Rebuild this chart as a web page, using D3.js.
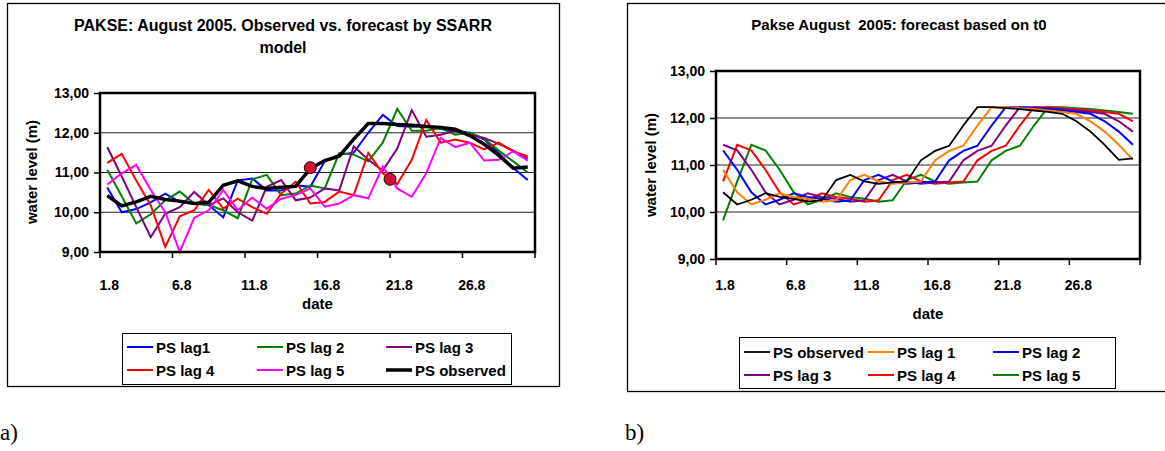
<!DOCTYPE html>
<meta charset="utf-8">
<style>
	body { margin: 0; background: #fff; }
	svg text { font-family: "Liberation Sans", Arial, sans-serif; font-weight: bold; fill: #000; }
	.panel { font-family: "Liberation Serif", "Times New Roman", serif; font-weight: normal; }
</style>
<svg width="1165" height="451"></svg>
<script src="https://d3js.org/d3.v7.min.js"></script>
<script>
	// days of August 2005
	var dates = ["1.8", "2.8", "3.8", "4.8", "5.8", "6.8", "7.8", "8.8", "9.8", "10.8",
		"11.8", "12.8", "13.8", "14.8", "15.8", "16.8", "17.8", "18.8", "19.8", "20.8",
		"21.8", "22.8", "23.8", "24.8", "25.8", "26.8", "27.8", "28.8", "29.8", "30.8"]
	var dateTicks = ["1.8", "6.8", "11.8", "16.8", "21.8", "26.8"]
	var levelTicks = [9, 10, 11, 12, 13]

	// water level at Pakse (m)
	var observed = [10.42, 10.16, 10.26, 10.40, 10.32, 10.28, 10.22, 10.25, 10.68, 10.79,
		10.65, 10.60, 10.63, 10.65, 11.10, 11.30, 11.41, 11.84, 12.23, 12.23,
		12.21, 12.19, 12.16, 12.13, 12.09, 11.93, 11.71, 11.43, 11.11, 11.14]

	// a) SSARR forecasts
	var ssarrLag1 = [10.62, 10.00, 10.08, 10.25, 10.47, 10.26, 10.22, 10.18, 9.87, 10.80,
		10.85, 10.55, 10.55, 10.68, 10.64, 11.28, 11.45, 11.50, 12.00, 12.45,
		12.17, 12.15, 12.17, 12.10, 12.04, 12.00, 11.83, 11.49, 11.11, 10.81]
	var ssarrLag2 = [11.07, 10.40, 9.72, 9.95, 10.30, 10.52, 10.22, 10.18, 10.05, 9.85,
		10.83, 10.94, 10.43, 10.47, 10.67, 10.60, 11.49, 11.45, 11.28, 11.75,
		12.60, 12.05, 12.05, 12.12, 11.95, 12.00, 11.85, 11.55, 11.28, 11.00]
	var ssarrLag3 = [11.64, 10.90, 10.13, 9.37, 9.96, 10.13, 10.51, 10.18, 10.35, 10.00,
		9.79, 10.64, 10.81, 10.30, 10.37, 10.60, 10.55, 11.66, 11.32, 11.05,
		11.60, 12.57, 11.90, 11.95, 12.05, 11.95, 11.87, 11.72, 11.55, 11.35]
	var ssarrLag4 = [11.24, 11.47, 10.80, 10.17, 9.13, 9.90, 10.05, 10.56, 10.09, 10.34,
		10.13, 9.96, 10.47, 10.77, 10.22, 10.26, 10.52, 10.43, 11.49, 10.98,
		10.71, 11.32, 12.32, 11.75, 11.83, 11.75, 11.58, 11.75, 11.53, 11.41]
	var ssarrLag5 = [10.70, 10.98, 11.19, 10.56, 10.00, 9.00, 9.86, 10.05, 10.56, 10.05,
		10.37, 10.09, 10.34, 10.43, 10.60, 10.14, 10.22, 10.43, 10.35, 11.15,
		10.60, 10.39, 10.98, 11.87, 11.64, 11.75, 11.30, 11.32, 11.53, 11.30]
	// highlighted points (position in days from 1.8, level)
	var ssarrDots = [{ at: 14, value: 11.12 }, { at: 19.5, value: 10.83 }]

	// b) forecasts based on t0
	var t0Lag1 = [10.90, 10.42, 10.16, 10.26, 10.40, 10.32, 10.28, 10.22, 10.25, 10.68,
		10.79, 10.65, 10.60, 10.63, 10.65, 11.10, 11.30, 11.41, 11.84, 12.23,
		12.23, 12.21, 12.19, 12.16, 12.13, 12.09, 11.93, 11.71, 11.43, 11.11]
	var t0Lag2 = [11.31, 10.90, 10.42, 10.16, 10.26, 10.40, 10.32, 10.28, 10.22, 10.25,
		10.68, 10.79, 10.65, 10.60, 10.63, 10.65, 11.10, 11.30, 11.41, 11.84,
		12.23, 12.23, 12.21, 12.19, 12.16, 12.13, 12.09, 11.93, 11.71, 11.43]
	var t0Lag3 = [11.43, 11.31, 10.90, 10.42, 10.16, 10.26, 10.40, 10.32, 10.28, 10.22,
		10.25, 10.68, 10.79, 10.65, 10.60, 10.63, 10.65, 11.10, 11.30, 11.41,
		11.84, 12.23, 12.23, 12.21, 12.19, 12.16, 12.13, 12.09, 11.93, 11.71]
	var t0Lag4 = [10.65, 11.43, 11.31, 10.90, 10.42, 10.16, 10.26, 10.40, 10.32, 10.28,
		10.22, 10.25, 10.68, 10.79, 10.65, 10.60, 10.63, 10.65, 11.10, 11.30,
		11.41, 11.84, 12.23, 12.23, 12.21, 12.19, 12.16, 12.13, 12.09, 11.93]
	var t0Lag5 = [9.82, 10.65, 11.43, 11.31, 10.90, 10.42, 10.16, 10.26, 10.40, 10.32,
		10.28, 10.22, 10.25, 10.68, 10.79, 10.65, 10.60, 10.63, 10.65, 11.10,
		11.30, 11.41, 11.84, 12.23, 12.23, 12.21, 12.19, 12.16, 12.13, 12.09]

	var svg = d3.select('svg')
	var fmt = function (d) { return d3.format('.2f')(d).replace('.', ',') }

	function drawChart(c) {
		var g = svg.append('g')

		// outer frame
		g.append('rect')
			.attr('x', c.frame[0]).attr('y', c.frame[1])
			.attr('width', c.frame[2]).attr('height', c.frame[3])
			.attr('fill', 'none').attr('stroke', '#000').attr('stroke-width', 1.3)

		c.title.forEach(function (t, i) {
			g.append('text')
				.attr('x', c.titleX).attr('y', c.titleY + i * 22)
				.attr('text-anchor', 'middle')
				.style('font-size', c.titleSize + 'px')
				.style('white-space', 'pre')
				.text(t)
		})

		var x = d3.scaleBand().domain(dates).range([c.left, c.right]),
			y = d3.scaleLinear().domain([9, 13]).range([c.bottom, c.top]),
			bw = x.bandwidth()

		// grid
		g.selectAll('.grid').data(levelTicks.slice(1, -1)).enter()
			.append('line')
			.attr('x1', c.left).attr('x2', c.right)
			.attr('y1', d => y(d)).attr('y2', d => y(d))
			.attr('stroke', '#222').attr('stroke-width', 1)

		// y axis
		var yAxis = g.append('g')
			.attr('transform', 'translate(' + c.left + ',0)')
			.call(d3.axisLeft(y).tickValues(levelTicks).tickFormat(fmt).tickSize(6).tickPadding(5))
		yAxis.select('.domain').remove()
		yAxis.selectAll('line').attr('stroke', '#000').attr('stroke-width', 1.5)
		yAxis.selectAll('text').style('font-size', '14px').style('font-family', null)

		// x axis: ticks between categories, labels every 5 days
		var boundaries = dateTicks.map(d => x(d)).concat([c.right])
		g.selectAll('.xt').data(boundaries).enter()
			.append('line')
			.attr('x1', d => d).attr('x2', d => d)
			.attr('y1', c.bottom).attr('y2', c.bottom + 6)
			.attr('stroke', '#000').attr('stroke-width', 1.5)
		g.selectAll('.xl').data(dateTicks).enter()
			.append('text')
			.attr('x', d => x(d) + bw / 2 + 2)
			.attr('y', c.bottom + c.tickLabelGap)
			.attr('text-anchor', 'middle')
			.style('font-size', '14px')
			.text(d => d)

		g.append('text')
			.attr('x', (c.left + c.right) / 2).attr('y', c.dateY)
			.attr('text-anchor', 'middle').style('font-size', '15px')
			.text('date')
		g.append('text')
			.attr('transform', 'translate(' + c.ylabX + ',' + c.ylabY + ') rotate(-90)')
			.attr('text-anchor', 'middle').style('font-size', '15px')
			.text('water level (m)')

		// series
		var line = d3.line()
			.x((d, i) => x(dates[i]) + bw / 2)
			.y(d => y(d))
		c.series.forEach(function (s) {
			g.append('path')
				.attr('d', line(s.values))
				.attr('fill', 'none')
				.attr('stroke', s.color)
				.attr('stroke-width', s.width)
				.attr('stroke-linejoin', 'miter')
		})

		if (c.dots) {
			g.selectAll('.dot').data(c.dots).enter()
				.append('circle')
				.attr('cx', d => c.left + (d.at + 0.5) * bw)
				.attr('cy', d => y(d.value))
				.attr('r', 6)
				.attr('fill', '#d0102e')
				.attr('stroke', '#200').attr('stroke-width', 1)
		}

		// plot area border
		g.append('rect')
			.attr('x', c.left).attr('y', c.top)
			.attr('width', c.right - c.left).attr('height', c.bottom - c.top)
			.attr('fill', 'none').attr('stroke', '#000').attr('stroke-width', 2.5)

		// legend
		var L = c.legend
		g.append('rect')
			.attr('x', L.box[0]).attr('y', L.box[1])
			.attr('width', L.box[2]).attr('height', L.box[3])
			.attr('fill', '#fff').attr('stroke', '#000').attr('stroke-width', 1)
		L.order.forEach(function (k, i) {
			var s = c.series[k],
				cx = L.cols[i % 3],
				cy = L.rows[Math.floor(i / 3)]
			g.append('line')
				.attr('x1', cx).attr('x2', cx + 26)
				.attr('y1', cy).attr('y2', cy)
				.attr('stroke', s.color).attr('stroke-width', s.width)
			g.append('text')
				.attr('x', cx + 29).attr('y', cy + 5.5)
				.style('font-size', '15px')
				.text(s.name)
		})

		g.append('text')
			.attr('class', 'panel')
			.attr('x', c.panel[0]).attr('y', c.panel[1])
			.style('font-size', '23px')
			.text(c.panelText)
	}

	drawChart({
		frame: [7.5, 3.5, 552, 383],
		title: ['PAKSE: August 2005. Observed vs. forecast by SSARR', 'model'],
		titleX: 283, titleY: 31, titleSize: 16,
		left: 100, right: 535, top: 93, bottom: 252,
		tickLabelGap: 38, dateY: 309, ylabX: 37, ylabY: 172,
		series: [
			{ name: 'PS lag1', values: ssarrLag1, color: '#0000ff', width: 2 },
			{ name: 'PS lag 2', values: ssarrLag2, color: '#008000', width: 2 },
			{ name: 'PS lag 3', values: ssarrLag3, color: '#800080', width: 2 },
			{ name: 'PS lag 4', values: ssarrLag4, color: '#ff0000', width: 2 },
			{ name: 'PS lag 5', values: ssarrLag5, color: '#ff00ff', width: 2 },
			{ name: 'PS observed', values: observed, color: '#000', width: 3.5 }
		],
		dots: ssarrDots,
		legend: {
			box: [122.5, 333.5, 389, 51],
			cols: [127, 257, 386], rows: [347, 370],
			order: [0, 1, 2, 3, 4, 5]
		},
		panel: [0, 440], panelText: 'a)'
	})

	drawChart({
		frame: [627.5, 3.5, 545, 388],
		title: ['Pakse August  2005: forecast based on t0'],
		titleX: 899, titleY: 30, titleSize: 15,
		left: 716, right: 1140, top: 71, bottom: 259,
		tickLabelGap: 31, dateY: 319, ylabX: 656, ylabY: 165,
		series: [
			{ name: 'PS lag 5', values: t0Lag5, color: '#008000', width: 2 },
			{ name: 'PS lag 4', values: t0Lag4, color: '#ff0000', width: 2 },
			{ name: 'PS lag 3', values: t0Lag3, color: '#800080', width: 2 },
			{ name: 'PS lag 2', values: t0Lag2, color: '#0000ff', width: 2 },
			{ name: 'PS lag 1', values: t0Lag1, color: '#ff8000', width: 2 },
			{ name: 'PS observed', values: observed, color: '#000', width: 1.8 }
		],
		legend: {
			box: [739.5, 337.5, 376, 51],
			cols: [744, 868, 993], rows: [352, 375],
			order: [5, 4, 3, 2, 1, 0]
		},
		panel: [625, 440], panelText: 'b)'
	})
</script>
